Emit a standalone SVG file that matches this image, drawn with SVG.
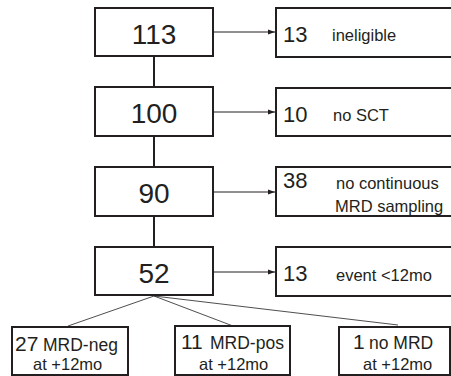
<svg xmlns="http://www.w3.org/2000/svg" width="451" height="376" viewBox="0 0 451 376">
<defs>
<style>
.box{fill:#fff;stroke:#231f20;stroke-width:2}
.vline{stroke:#231f20;stroke-width:2;fill:none}
.arr{stroke:#231f20;stroke-width:1;fill:none}
.fan{stroke:#231f20;stroke-width:0.8;fill:none}
text{font-family:"Liberation Sans",Arial,sans-serif;fill:#231f20}
.big{font-size:28px;text-anchor:middle}
.num{font-size:22px}
.lbl{font-size:16.5px}
.bl{font-size:17.5px}
.bnum{font-size:21px}
</style>
<marker id="ah" markerWidth="8" markerHeight="6" refX="7" refY="3" orient="auto" markerUnits="userSpaceOnUse">
<path d="M0,0.5 L7,3 L0,5.5 Z" fill="#231f20"/>
</marker>
</defs>
<rect width="451" height="376" fill="#fff"/>
<g id="connectors">
<line class="vline" x1="154" y1="56" x2="154" y2="87"/>
<line class="vline" x1="154" y1="136" x2="154" y2="167"/>
<line class="vline" x1="154" y1="216" x2="154" y2="247"/>
<line class="arr" x1="214" y1="32" x2="275" y2="32" marker-end="url(#ah)"/>
<line class="arr" x1="214" y1="112" x2="275" y2="112" marker-end="url(#ah)"/>
<line class="arr" x1="214" y1="192" x2="275" y2="192" marker-end="url(#ah)"/>
<line class="arr" x1="214" y1="272" x2="275" y2="272" marker-end="url(#ah)"/>
<line class="fan" x1="154" y1="296" x2="68" y2="326"/>
<line class="fan" x1="154" y1="296" x2="233" y2="326"/>
<line class="fan" x1="154" y1="296" x2="398" y2="325"/>
</g>
<g id="n113"><rect class="box" x="95" y="8" width="118" height="48"/><text class="big" x="154" y="44">113</text></g>
<g id="n100"><rect class="box" x="95" y="87" width="118" height="49"/><text class="big" x="154" y="123">100</text></g>
<g id="n90"><rect class="box" x="95" y="167" width="118" height="49"/><text class="big" x="154" y="203">90</text></g>
<g id="n52"><rect class="box" x="95" y="247" width="118" height="48"/><text class="big" x="154" y="283">52</text></g>
<g id="r1"><rect class="box" x="276" y="8" width="180" height="49"/><text class="num" x="283" y="42">13</text><text class="lbl" x="332" y="41">ineligible</text></g>
<g id="r2"><rect class="box" x="276" y="88" width="180" height="48"/><text class="num" x="283" y="122">10</text><text class="lbl" x="333" y="121">no SCT</text></g>
<g id="r3"><rect class="box" x="276" y="167" width="180" height="49"/><text class="num" x="283" y="188">38</text><text class="lbl" x="336" y="189">no continuous</text><text class="lbl" x="335" y="212">MRD sampling</text></g>
<g id="r4"><rect class="box" x="276" y="247" width="180" height="49"/><text class="num" x="283" y="281">13</text><text class="lbl" x="336" y="281">event &lt;12mo</text></g>
<g id="b27"><rect class="box" x="12" y="327" width="116" height="48"/><text class="bnum" x="15" y="351">27</text><text class="bl" x="43" y="351">MRD-neg</text><text class="lbl" x="33" y="370">at +12mo</text></g>
<g id="b11"><rect class="box" x="175" y="326" width="115" height="49"/><text class="bnum" x="181" y="349">11</text><text class="bl" x="210" y="349">MRD-pos</text><text class="lbl" x="199" y="370">at +12mo</text></g>
<g id="b1"><rect class="box" x="339" y="327" width="111" height="48"/><text class="bnum" x="353" y="349">1</text><text class="bl" x="369" y="349">no MRD</text><text class="lbl" x="363" y="370">at +12mo</text></g>
</svg>
